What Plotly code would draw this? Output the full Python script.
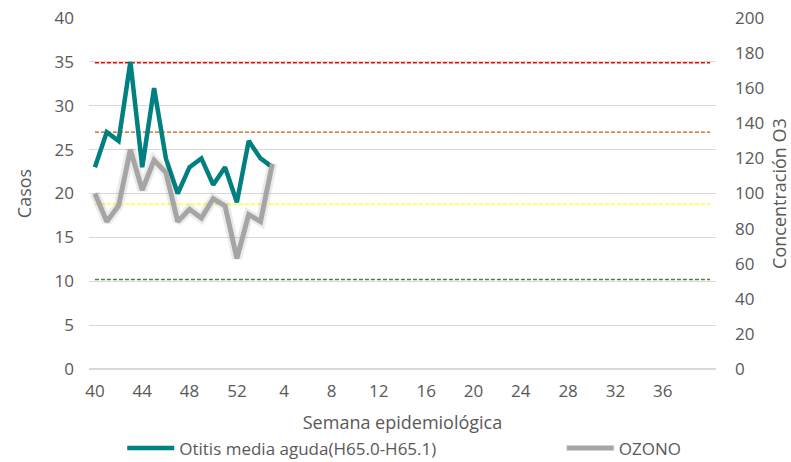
import plotly.graph_objects as go

weeks = list(range(40, 53)) + list(range(1, 41))
otitis = [23, 27, 26, 35, 23, 32, 24, 20, 23, 24, 21, 23, 19, 26, 24, 23]
ozono = [100, 84, 93, 125, 102, 119, 112, 84, 91, 86, 97, 93, 63, 88, 84, 117]
thresholds = [34.9, 27.0, 18.8, 10.2]
threshold_colors = ["#FF0000", "#C55A11", "#FFFF00", "#548235"]

x = list(range(len(weeks)))
tick_idx = list(range(0, 49, 4))
tick_txt = [str(weeks[i]) for i in tick_idx]

FONT = "Open Sans"
GREY = "#595959"
FS = 17
FT = 18

fig = go.Figure()

for val, col in zip(thresholds, threshold_colors):
    fig.add_trace(go.Scatter(x=[x[0], x[-1]], y=[val, val], mode="lines",
                             line=dict(color=col, width=1.3, dash="4px,2px"),
                             showlegend=False, hoverinfo="skip"))

fig.add_trace(go.Scatter(x=x[:len(otitis)], y=otitis, mode="lines",
                         name="Otitis media aguda(H65.0-H65.1)",
                         line=dict(color="#008080", width=4.5), legend="legend"))

fig.add_trace(go.Scatter(x=x[:len(ozono)], y=ozono, mode="lines", yaxis="y2",
                         line=dict(color="rgba(0,0,0,0.08)", width=10),
                         showlegend=False, hoverinfo="skip"))
fig.add_trace(go.Scatter(x=x[:len(ozono)], y=ozono, mode="lines", yaxis="y2",
                         name="OZONO",
                         line=dict(color="#A5A5A5", width=5), legend="legend2"))

fig.update_layout(
    width=791, height=462,
    margin=dict(l=89, r=75, t=18, b=93, autoexpand=False),
    paper_bgcolor="white", plot_bgcolor="white",
    font=dict(family=FONT, size=FS, color=GREY),
    xaxis=dict(range=[-0.5, len(weeks) - 0.5], tickmode="array",
               tickvals=tick_idx, ticktext=tick_txt, showgrid=False,
               zeroline=False, showline=False, ticks="", automargin=False,
               ticklabelstandoff=10,
               title=dict(text="Semana epidemiológica", standoff=15,
                          font=dict(size=FT, color=GREY))),
    yaxis=dict(range=[0, 40], dtick=5, showgrid=True, gridcolor="#D9D9D9",
               gridwidth=1, zeroline=True, zerolinecolor="#D9D9D9",
               zerolinewidth=1.5, showline=False, ticks="", automargin=False,
               ticklabelstandoff=14,
               title=dict(text="Casos", standoff=18,
                          font=dict(size=FT, color=GREY))),
    yaxis2=dict(range=[0, 200], dtick=20, overlaying="y", side="right",
                showgrid=False, zeroline=False, showline=False, ticks="",
                automargin=False, ticklabelstandoff=18,
                title=dict(text="Concentración O3", standoff=15,
                           font=dict(size=FT, color=GREY))),
    legend=dict(orientation="h", x=0.053, xanchor="left", y=-0.226,
                yanchor="middle", font=dict(size=FS, color=GREY),
                itemwidth=47, bgcolor="rgba(0,0,0,0)"),
    legend2=dict(orientation="h", x=0.754, xanchor="left", y=-0.226,
                 yanchor="middle", font=dict(size=FS, color=GREY),
                 itemwidth=47, bgcolor="rgba(0,0,0,0)"),
)

fig.write_html("out.html", config={"displayModeBar": False},
               post_script="document.body.style.margin='0';")
